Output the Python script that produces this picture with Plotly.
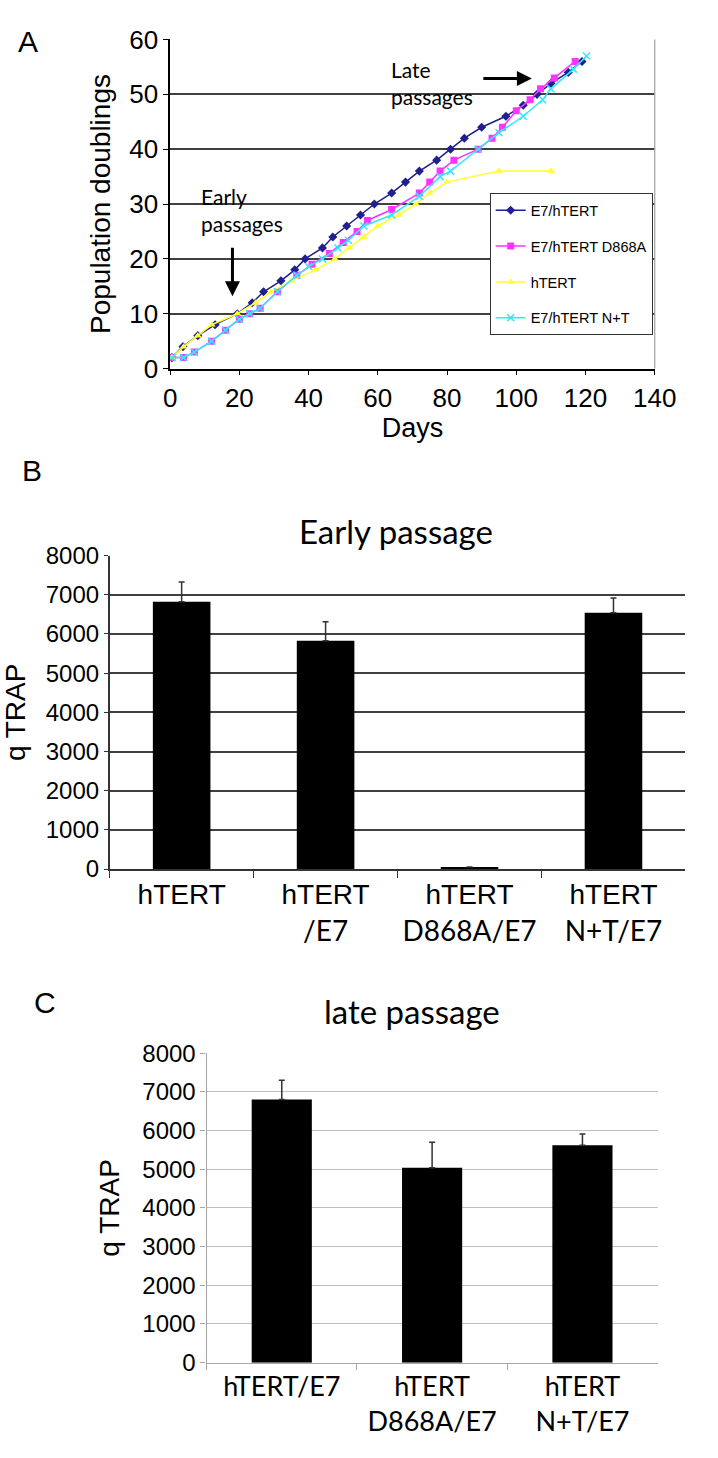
import plotly.graph_objects as go

# ---------------- Data ----------------
# Panel A: population doublings vs days
e7_days = [0.5, 3.7, 8, 13, 19.4, 23.7, 27, 32, 36, 39, 44, 47, 51, 55, 59, 64, 68, 72, 77, 81, 85, 90, 97, 102, 106, 110, 115, 119]
e7_pd = [2, 4, 6, 8, 10, 12, 14, 16, 18, 20, 22, 24, 26, 28, 30, 32, 34, 36, 38, 40, 42, 44, 46, 48, 50, 52, 54, 56]

d868a_days = [0.5, 3.9, 7, 12, 16, 20, 23, 26, 31, 36.6, 41, 46, 50, 54, 57, 64, 72, 75, 78, 82, 89, 93, 96, 100, 104, 107, 111, 117]
d868a_pd = [2, 2, 3, 5, 7, 9, 10, 11, 14, 17, 19, 21, 23, 25, 27, 29, 32, 34, 36, 38, 40, 42, 44, 47, 49, 51, 53, 56]

htert_days = [0.5, 3.9, 8, 12, 19.4, 24.7, 29, 35, 42, 47.6, 51.7, 56, 60, 66, 71, 75, 80, 95, 110]
htert_pd = [2, 4, 6, 8, 10, 12, 14, 16, 18, 20, 22, 24, 26, 28, 30, 32, 34, 36, 36]

nt_days = [0.5, 3.9, 7, 12, 16, 20, 23, 26, 31, 36.6, 40, 44, 48.5, 51.5, 56, 64, 72, 78, 81, 89, 95, 102, 107.6, 110, 116.5, 120.3]
nt_pd = [2, 2, 3, 5, 7, 9, 10, 11, 14, 17, 18.6, 20, 22, 23.4, 26, 28, 31.4, 35, 36, 40, 43, 46, 49, 51, 54.6, 57]

series_names = ["E7/hTERT", "E7/hTERT D868A", "hTERT", "E7/hTERT N+T"]

# Panel B: early passage qTRAP
early_cats = ["hTERT",
              "hTERT<br><span style='font-family:Lato'>/E7</span>",
              "hTERT<br><span style='font-family:Lato'>D868A/E7</span>",
              "hTERT<br><span style='font-family:Lato'>N+T/E7</span>"]
early_vals = [6820, 5830, 50, 6540]
early_err = [510, 480, 0, 380]

# Panel C: late passage qTRAP
late_cats = ["hTERT/E7", "hTERT<br>D868A/E7", "hTERT<br>N+T/E7"]
late_vals = [6800, 5040, 5620]
late_err = [500, 660, 290]

# ---------------- Layout helpers ----------------
W, H = 718, 1458
def fx(px):
    return px / W
def fy(px):
    return 1 - px / H

ARIAL = "Liberation Sans, Arial, sans-serif"
CALIBRI = "Lato, Open Sans, sans-serif"

fig = go.Figure()

# Panel A traces
fig.add_trace(go.Scatter(x=e7_days, y=e7_pd, mode="lines+markers", name=series_names[0],
                         line=dict(color="#1f1f8f", width=1.5),
                         marker=dict(symbol="diamond", size=7, color="#1f1f8f"),
                         xaxis="x", yaxis="y", legendgroup="g1"))
fig.add_trace(go.Scatter(x=d868a_days, y=d868a_pd, mode="lines+markers", name=series_names[1],
                         line=dict(color="#ff33ff", width=1.5),
                         marker=dict(symbol="square", size=7, color="#ff33ff"),
                         xaxis="x", yaxis="y", legendgroup="g2"))
fig.add_trace(go.Scatter(x=htert_days, y=htert_pd, mode="lines+markers", name=series_names[2],
                         line=dict(color="#ffff33", width=1.5),
                         marker=dict(symbol="triangle-up", size=7, color="#ffff33"),
                         xaxis="x", yaxis="y", legendgroup="g3"))
fig.add_trace(go.Scatter(x=nt_days, y=nt_pd, mode="lines+markers", name=series_names[3],
                         line=dict(color="#33e6ff", width=1.5),
                         marker=dict(symbol="x-thin", size=7, color="#33e6ff",
                                     line=dict(color="#33e6ff", width=1.5)),
                         xaxis="x", yaxis="y", legendgroup="g4"))

# Panel B bars
fig.add_trace(go.Bar(x=early_cats, y=early_vals, width=0.4,
                     marker=dict(color="black", line=dict(width=0)),
                     error_y=dict(type="data", symmetric=False, array=early_err,
                                  arrayminus=[0] * len(early_err),
                                  color="#333333", thickness=1.5, width=3),
                     xaxis="x2", yaxis="y2", showlegend=False))

# Panel C bars
fig.add_trace(go.Bar(x=late_cats, y=late_vals, width=0.4,
                     marker=dict(color="black", line=dict(width=0)),
                     error_y=dict(type="data", symmetric=False, array=late_err,
                                  arrayminus=[0] * len(late_err),
                                  color="#333333", thickness=1.5, width=3),
                     xaxis="x3", yaxis="y3", showlegend=False))

fig.update_layout(
    width=W, height=H,
    margin=dict(l=0, r=0, t=0, b=0),
    paper_bgcolor="white", plot_bgcolor="white",
    font=dict(family=ARIAL, color="black"),
    showlegend=True,
    legend=dict(x=fx(503), y=fy(182), xanchor="left", yanchor="top",
                bgcolor="white", bordercolor="#333333", borderwidth=1,
                font=dict(family=ARIAL, size=14.5, color="black"),
                tracegroupgap=14, itemwidth=30),
    bargap=0.6,
    # Panel A
    xaxis=dict(domain=[fx(170), fx(675)], anchor="y", range=[0, 140], dtick=20,
               showgrid=False, zeroline=False, showline=True, linecolor="black", linewidth=1.5,
               ticks="outside", ticklen=5, tickcolor="black",
               tickfont=dict(size=26, family=ARIAL),
               title=dict(text="Days", font=dict(size=27, family=ARIAL), standoff=2)),
    yaxis=dict(domain=[fy(361), fy(25)], anchor="x", range=[0, 60], dtick=10,
               showgrid=True, gridcolor="#404040", gridwidth=1.5, zeroline=False,
               showline=True, linecolor="black", linewidth=1.5,
               ticks="outside", ticklen=5, tickcolor="black",
               tickfont=dict(size=26, family=ARIAL),
               title=dict(text="Population doublings", font=dict(size=28, family=ARIAL), standoff=10)),
    # Panel B
    xaxis2=dict(domain=[fx(107), fx(707)], anchor="y2", type="category",
                tickson="boundaries", ticks="outside", ticklen=7, tickcolor="#333333",
                showline=True, linecolor="#333333", linewidth=1.5, showgrid=False,
                tickfont=dict(size=28, family=ARIAL)),
    yaxis2=dict(domain=[fy(872), fy(552)], anchor="x2", range=[0, 8000], dtick=1000,
                showgrid=True, gridcolor="#404040", gridwidth=2, zeroline=False,
                showline=True, linecolor="#333333", linewidth=1.5,
                ticks="outside", ticklen=4, tickcolor="#333333",
                tickfont=dict(size=24, family=ARIAL),
                title=dict(text="q TRAP", font=dict(size=28, family=ARIAL), standoff=12)),
    # Panel C
    xaxis3=dict(domain=[fx(208), fx(678)], anchor="y3", type="category",
                tickson="boundaries", ticks="outside", ticklen=6, tickcolor="#a6a6a6",
                showline=True, linecolor="#a6a6a6", linewidth=1.2, showgrid=False,
                tickfont=dict(size=27, family=CALIBRI)),
    yaxis3=dict(domain=[fy(1376), fy(1060)], anchor="x3", range=[0, 8000], dtick=1000,
                showgrid=True, gridcolor="#bfbfbf", gridwidth=1, zeroline=False,
                showline=True, linecolor="#a6a6a6", linewidth=1.2,
                ticks="outside", ticklen=5, tickcolor="#a6a6a6",
                tickfont=dict(size=24, family=ARIAL),
                title=dict(text="q TRAP", font=dict(size=28, family=ARIAL), standoff=14)),
)

# Right border of panel A
fig.add_shape(type="line", xref="x domain", yref="y domain", x0=1, x1=1, y0=0, y1=1,
              line=dict(color="#a0a0a0", width=1.2))

annos = [
    dict(text="A", x=fx(22), y=fy(27), xref="paper", yref="paper", showarrow=False,
         font=dict(size=30, family=ARIAL), xanchor="center", yanchor="middle"),
    dict(text="B", x=fx(26), y=fy(465), xref="paper", yref="paper", showarrow=False,
         font=dict(size=30, family=ARIAL), xanchor="center", yanchor="middle"),
    dict(text="C", x=fx(40), y=fy(1008), xref="paper", yref="paper", showarrow=False,
         font=dict(size=30, family=ARIAL), xanchor="center", yanchor="middle"),
    dict(text="Early passage", x=fx(405), y=fy(527), xref="paper", yref="paper", showarrow=False,
         font=dict(size=33, family=CALIBRI), xanchor="center", yanchor="middle"),
    dict(text="late passage", x=fx(422), y=fy(1017), xref="paper", yref="paper", showarrow=False,
         font=dict(size=33, family=CALIBRI), xanchor="center", yanchor="middle"),
    dict(text="Early<br>passages", x=8.3, y=28.9, xref="x", yref="y", showarrow=False,
         font=dict(size=21, family=CALIBRI), xanchor="left", yanchor="middle", align="left"),
    dict(text="Late<br>passages", x=63.2, y=52, xref="x", yref="y", showarrow=False,
         font=dict(size=21, family=CALIBRI), xanchor="left", yanchor="middle", align="left"),
    dict(text="", x=18, y=13.2, xref="x", yref="y", showarrow=True, ax=0, ay=-50,
         arrowhead=2, arrowsize=1, arrowwidth=3, arrowcolor="black"),
    dict(text="", x=104.5, y=52.9, xref="x", yref="y", showarrow=True, ax=-50, ay=0,
         arrowhead=2, arrowsize=1, arrowwidth=3, arrowcolor="black"),
]
fig.update_layout(annotations=annos)

fig.write_html("out.html", config={"displayModeBar": False},
               post_script="document.body.style.margin='0';")
